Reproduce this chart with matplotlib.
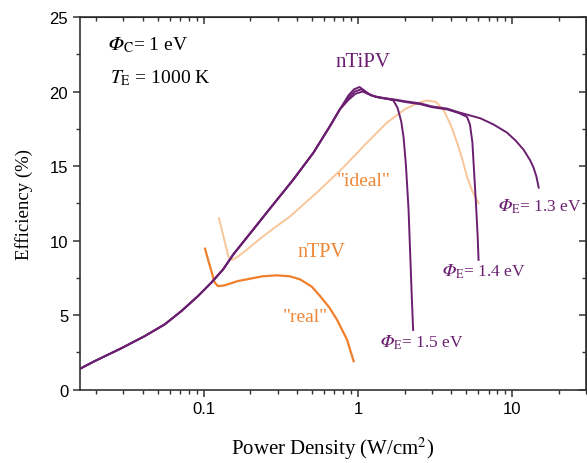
"""Efficiency vs power density: nTiPV (three emitter work functions) against nTPV ideal/real."""
import matplotlib
matplotlib.use("Agg")
import matplotlib.pyplot as plt
from matplotlib import ticker

plt.rcParams["font.family"] = ["Liberation Serif", "DejaVu Serif"]
plt.rcParams["mathtext.fontset"] = "stix"

PURPLE = "#6b1f70"
ORANGE = "#f07f2c"
LIGHT = "#f8c699"
TXT_OR = "#ef8636"
PHI = "\U0001D6F7"  # mathematical italic capital phi

# shared rising branch of the three nTiPV curves
rise_x = [0.0157, 0.0195, 0.029, 0.0412, 0.0556, 0.0713, 0.0914, 0.1115, 0.133,
          0.155, 0.20, 0.255, 0.38, 0.513, 0.658, 0.76]
rise_y = [1.39, 1.90, 2.76, 3.58, 4.37, 5.26, 6.27, 7.17, 8.06,
          9.07, 10.5, 11.87, 14.1, 15.9, 17.7, 18.8]

# per-curve tails after the shared branch
tail15_x = [0.866, 0.94, 1.02, 1.10, 1.2, 1.35, 1.55, 1.69, 1.80, 1.90, 1.97, 2.04, 2.12, 2.22, 2.27]
tail15_y = [19.75, 20.15, 20.3, 20.05, 19.75, 19.6, 19.5, 19.4, 18.9, 18.0, 16.9, 15.0, 12.1, 6.5, 4.0]

tail14_x = [0.866, 0.95, 1.05, 1.12, 1.25, 1.45, 1.69, 2.0, 2.53, 3.0, 3.77, 4.5, 5.07,
            5.3, 5.5, 5.65, 5.8, 5.95, 6.03]
tail14_y = [19.6, 20.0, 20.15, 19.95, 19.7, 19.55, 19.45, 19.3, 19.15, 18.95, 18.8, 18.55, 18.3,
            17.8, 16.6, 14.5, 12.5, 10.3, 8.7]

tail13_x = [0.866, 0.96, 1.07, 1.15, 1.3, 1.5, 1.75, 2.0, 2.53, 3.0, 3.77, 4.5, 5.07, 6.2,
            7.5, 9.2, 10.5, 11.8, 13.0, 13.7, 14.3, 14.8]
tail13_y = [19.45, 19.85, 20.0, 19.85, 19.65, 19.55, 19.45, 19.35, 19.2, 19.0, 18.85, 18.6, 18.45, 18.2,
            17.8, 17.25, 16.7, 16.1, 15.4, 14.9, 14.3, 13.55]

# nTPV
ideal_x = [0.125, 0.135, 0.144, 0.152, 0.165, 0.19, 0.23, 0.29, 0.36, 0.55, 0.80, 1.10, 1.53,
           2.0, 2.4, 2.78, 3.2, 3.6, 4.0, 4.4, 4.75, 5.07, 5.5, 6.03]
ideal_y = [11.5, 10.1, 8.9, 8.7, 8.9, 9.4, 10.1, 10.9, 11.6, 13.3, 14.9, 16.4, 17.9,
           18.8, 19.2, 19.4, 19.3, 18.7, 17.7, 16.5, 15.4, 14.3, 13.3, 12.5]

real_x = [0.1015, 0.107, 0.112, 0.117, 0.123, 0.135, 0.166, 0.189, 0.24, 0.296, 0.36, 0.42,
          0.5, 0.566, 0.65, 0.727, 0.845, 0.934]
real_y = [9.45, 8.6, 7.9, 7.2, 6.94, 6.98, 7.28, 7.39, 7.6, 7.66, 7.6, 7.39,
          6.9, 6.27, 5.5, 4.7, 3.36, 1.9]

fig = plt.figure(figsize=(5.87, 4.64), dpi=100)
ax = fig.add_axes([0.1363, 0.1584, 0.862, 0.8028])

ax.plot(ideal_x, ideal_y, color=LIGHT, lw=1.4)
ax.plot(real_x, real_y, color=ORANGE, lw=1.6)
for tx, ty in [(tail13_x, tail13_y), (tail14_x, tail14_y), (tail15_x, tail15_y)]:
    ax.plot(rise_x + tx, rise_y + ty, color=PURPLE, lw=1.4)

ax.set_xscale("log")
ax.set_xlim(0.0157, 30)
ax.set_ylim(0, 25)
ax.yaxis.set_major_locator(ticker.MultipleLocator(5))
ax.yaxis.set_minor_locator(ticker.MultipleLocator(2.5))
ax.xaxis.set_major_locator(ticker.FixedLocator([0.1, 1, 10]))
ax.xaxis.set_major_formatter(ticker.FuncFormatter(lambda v, _: f"{v:g}"))
ax.xaxis.set_minor_locator(ticker.LogLocator(subs=range(2, 10)))
ax.xaxis.set_minor_formatter(ticker.NullFormatter())
ax.tick_params(which="major", direction="out", length=5, width=1.1, color="#333333",
               labelsize=12, labelfontfamily="Liberation Sans")
ax.tick_params(which="minor", direction="out", length=3, width=1.0, color="#333333")
for sp in ax.spines.values():
    sp.set_linewidth(1.2)
    sp.set_color("#333333")

# mirrored ticks pointing inward on top / right
top = ax.secondary_xaxis("top")
top.xaxis.set_major_locator(ticker.FixedLocator([0.1, 1, 10]))
top.xaxis.set_minor_locator(ticker.LogLocator(subs=range(2, 10)))
top.tick_params(which="major", direction="in", length=5, width=1.1, color="#333333", labeltop=False)
top.tick_params(which="minor", direction="in", length=3, width=1.0, color="#333333")
right = ax.secondary_yaxis("right")
right.yaxis.set_major_locator(ticker.MultipleLocator(5))
right.yaxis.set_minor_locator(ticker.MultipleLocator(2.5))
right.tick_params(which="major", direction="in", length=5, width=1.1, color="#333333", labelright=False)
right.tick_params(which="minor", direction="in", length=3, width=1.0, color="#333333")

ax.set_xlabel("Power Density (W/cm$^2$)", fontsize=15, labelpad=13)
ax.set_ylabel("Efficiency (%)", fontsize=13.5, labelpad=12)

ax.text(0.0238, 23.2, f"${PHI}_{{\\mathrm{{C}}}}$= 1 eV", fontsize=14, va="center")
ax.text(0.0245, 20.97, r"$\mathit{T}_{\mathrm{E}}$ = 1000 K", fontsize=14, va="center")
ax.text(1.08, 22.0, "nTiPV", fontsize=15, color=PURPLE, ha="center", va="center")
ax.text(1.08, 14.0, '"ideal"', fontsize=14, color=TXT_OR, ha="center", va="center")
ax.text(0.575, 9.27, "nTPV", fontsize=14.5, color=TXT_OR, ha="center", va="center")
ax.text(0.453, 4.9, '"real"', fontsize=14, color=TXT_OR, ha="center", va="center")
for lx, ly, ev in [(8.1, 12.3, "1.3"), (3.5, 8.0, "1.4"), (1.39, 3.2, "1.5")]:
    ax.text(lx, ly, f"${PHI}_{{\\mathrm{{E}}}}$= {ev} eV", fontsize=12.5, color=PURPLE, va="center")

fig.savefig("out.png", dpi=100)
